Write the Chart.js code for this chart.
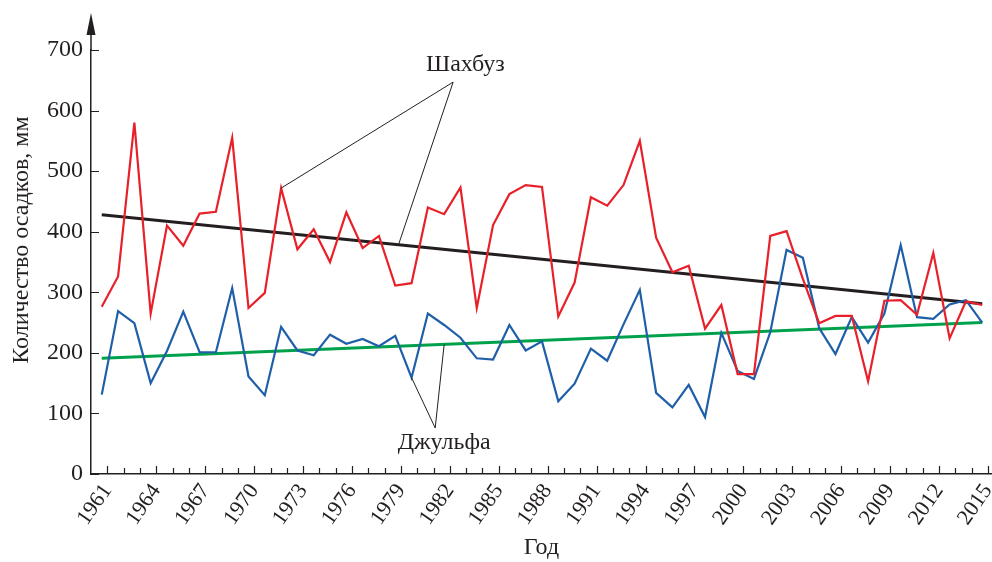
<!DOCTYPE html>
<html>
<head>
<meta charset="utf-8">
<script src="https://cdn.jsdelivr.net/npm/chart.js@4/dist/chart.umd.min.js"></script>
<style>
  html, body { margin: 0; padding: 0; background: #fff; }
</style>
</head>
<body>
<canvas id="chart" width="992" height="562"></canvas>
<script>
// precipitation, mm
const years = Array.from({ length: 55 }, (_, i) => 1961 + i);

const shakhbuz = [
  276, 326, 580, 265, 410, 377, 430, 433, 555, 274,
  299, 472, 371, 404, 350, 432, 373, 393, 311, 315,
  440, 429, 473, 274, 411, 462, 477, 474, 260, 316,
  457, 443, 477, 550, 390, 333, 344, 240, 279, 165,
  165, 393, 401, 322, 249, 261, 261, 153, 286, 287,
  263, 365, 224, 285, 279
];

const julfa = [
  131, 269, 249, 150, 203, 268, 201, 201, 307, 161,
  130, 243, 204, 196, 230, 215, 223, 211, 228, 159,
  265, 246, 225, 191, 189, 246, 204, 219, 120, 149,
  207, 187, 247, 304, 134, 110, 147,  94, 233, 170,
  157, 234, 370, 357, 241, 198, 259, 217, 265, 378,
  259, 256, 280, 287, 250
];

// linear trend end points
const trendYears = [1961, 2015];
const shakhbuzTrend = [428, 281];
const julfaTrend = [191, 250];

const yTicks = [0, 100, 200, 300, 400, 500, 600, 700];

const FONT = '"Liberation Serif", "Times New Roman", serif';
const FS = 24;
const INK = '#231f20';
const RED = '#e8202a';
const BLUE = '#1f5fa8';
const GREEN = '#00a14b';

const TICK_SHIFT = 0.35;   // year ticks sit a little right of the points in the original

const pts = (xs, ys) => xs.map((x, i) => ({ x, y: ys[i] }));
const trendAt = (tr, yr) =>
  tr[0] + (tr[1] - tr[0]) * (yr - trendYears[0]) / (trendYears[1] - trendYears[0]);

// callout labels: text position, where the leader lines start, what they point to
const notes = [
  {
    text: 'Шахбуз', at: [1983.3, 676], from: [1982.55, 647],
    to: [[1972, shakhbuz[years.indexOf(1972)]], [1979.2, trendAt(shakhbuzTrend, 1979.2)]]
  },
  {
    text: 'Джульфа', at: [1982.0, 52], from: [1981.45, 76],
    to: [[1980, julfa[years.indexOf(1980)]], [1982.0, trendAt(julfaTrend, 1982.0)]]
  }
];

const decor = {
  id: 'decor',
  afterDraw(chart) {
    const { ctx, chartArea: a, scales: { x, y } } = chart;
    ctx.save();
    ctx.strokeStyle = INK;
    ctx.fillStyle = INK;

    // y axis continues up into an arrow
    ctx.lineWidth = 1.5;
    ctx.beginPath();
    ctx.moveTo(a.left, a.top);
    ctx.lineTo(a.left, 28);
    ctx.stroke();
    ctx.beginPath();
    ctx.moveTo(a.left, 13);
    ctx.lineTo(a.left - 4.5, 35);
    ctx.lineTo(a.left + 4.5, 35);
    ctx.closePath();
    ctx.fill();

    // inward tick marks
    ctx.lineWidth = 1.2;
    ctx.beginPath();
    x.ticks.forEach(t => {
      const px = Math.round(x.getPixelForValue(t.value)) + 0.5;
      const yr = Math.round(t.value - TICK_SHIFT);
      const len = (yr - years[0]) % 3 === 0 ? 8 : 6;
      ctx.moveTo(px, a.bottom);
      ctx.lineTo(px, a.bottom - len);
    });
    y.ticks.forEach(t => {
      const py = Math.round(y.getPixelForValue(t.value)) + 0.5;
      ctx.moveTo(a.left, py);
      ctx.lineTo(a.left + 8, py);
    });
    ctx.stroke();

    // y title
    ctx.save();
    ctx.translate(22, 240);
    ctx.rotate(-Math.PI / 2);
    ctx.font = `${FS}px ${FONT}`;
    ctx.textAlign = 'center';
    ctx.textBaseline = 'middle';
    ctx.fillText('Количество осадков, мм', 0, 0);
    ctx.restore();

    // callouts
    ctx.lineWidth = 1;
    ctx.font = `${FS}px ${FONT}`;
    ctx.textAlign = 'center';
    ctx.textBaseline = 'middle';
    notes.forEach(n => {
      const fx = x.getPixelForValue(n.from[0]), fy = y.getPixelForValue(n.from[1]);
      ctx.beginPath();
      n.to.forEach(([tx, ty]) => {
        ctx.moveTo(fx, fy);
        ctx.lineTo(x.getPixelForValue(tx), y.getPixelForValue(ty));
      });
      ctx.stroke();
      ctx.fillText(n.text, x.getPixelForValue(n.at[0]), y.getPixelForValue(n.at[1]));
    });

    ctx.restore();
  }
};

const lineDs = (data, color, width) => ({
  data, borderColor: color, borderWidth: width,
  pointRadius: 0, tension: 0, fill: false
});

new Chart(document.getElementById('chart').getContext('2d'), {
  type: 'line',
  data: {
    datasets: [
      lineDs(pts(years, shakhbuz), RED, 2.2),
      lineDs(pts(years, julfa), BLUE, 2.2),
      lineDs(pts(trendYears, shakhbuzTrend), INK, 3),
      lineDs(pts(trendYears, julfaTrend), GREEN, 3)
    ]
  },
  options: {
    responsive: false,
    animation: false,
    layout: { padding: { top: 50, left: 0, right: 0, bottom: 0 } },
    plugins: { legend: { display: false }, tooltip: { enabled: false } },
    scales: {
      x: {
        type: 'linear',
        min: 1960.34,
        max: 2015.6,
        grid: { display: false, drawTicks: false },
        border: { display: true, color: INK, width: 1.5 },
        afterBuildTicks: s => { s.ticks = years.map(v => ({ value: v + TICK_SHIFT })); },
        afterFit: s => { s.height = 88; s.paddingLeft = 0; s.paddingRight = 0; },
        ticks: {
          autoSkip: false,
          minRotation: 55,
          maxRotation: 55,
          padding: 5,
          color: INK,
          font: { family: FONT, size: 22 },
          callback: v => {
            const yr = Math.round(v - TICK_SHIFT);
            return (yr - years[0]) % 3 === 0 ? String(yr) : '';
          }
        },
        title: {
          display: true, text: 'Год', color: INK,
          font: { family: FONT, size: FS },
          padding: { top: 0, bottom: 0 }
        }
      },
      y: {
        min: 0,
        max: 700,
        grid: { display: false, drawTicks: false },
        border: { display: true, color: INK, width: 1.5 },
        afterBuildTicks: s => { s.ticks = yTicks.map(v => ({ value: v })); },
        afterFit: s => { s.width = 91; },
        ticks: {
          padding: 8,
          color: INK,
          font: { family: FONT, size: FS }
        }
      }
    }
  },
  plugins: [decor]
});
</script>
</body>
</html>
